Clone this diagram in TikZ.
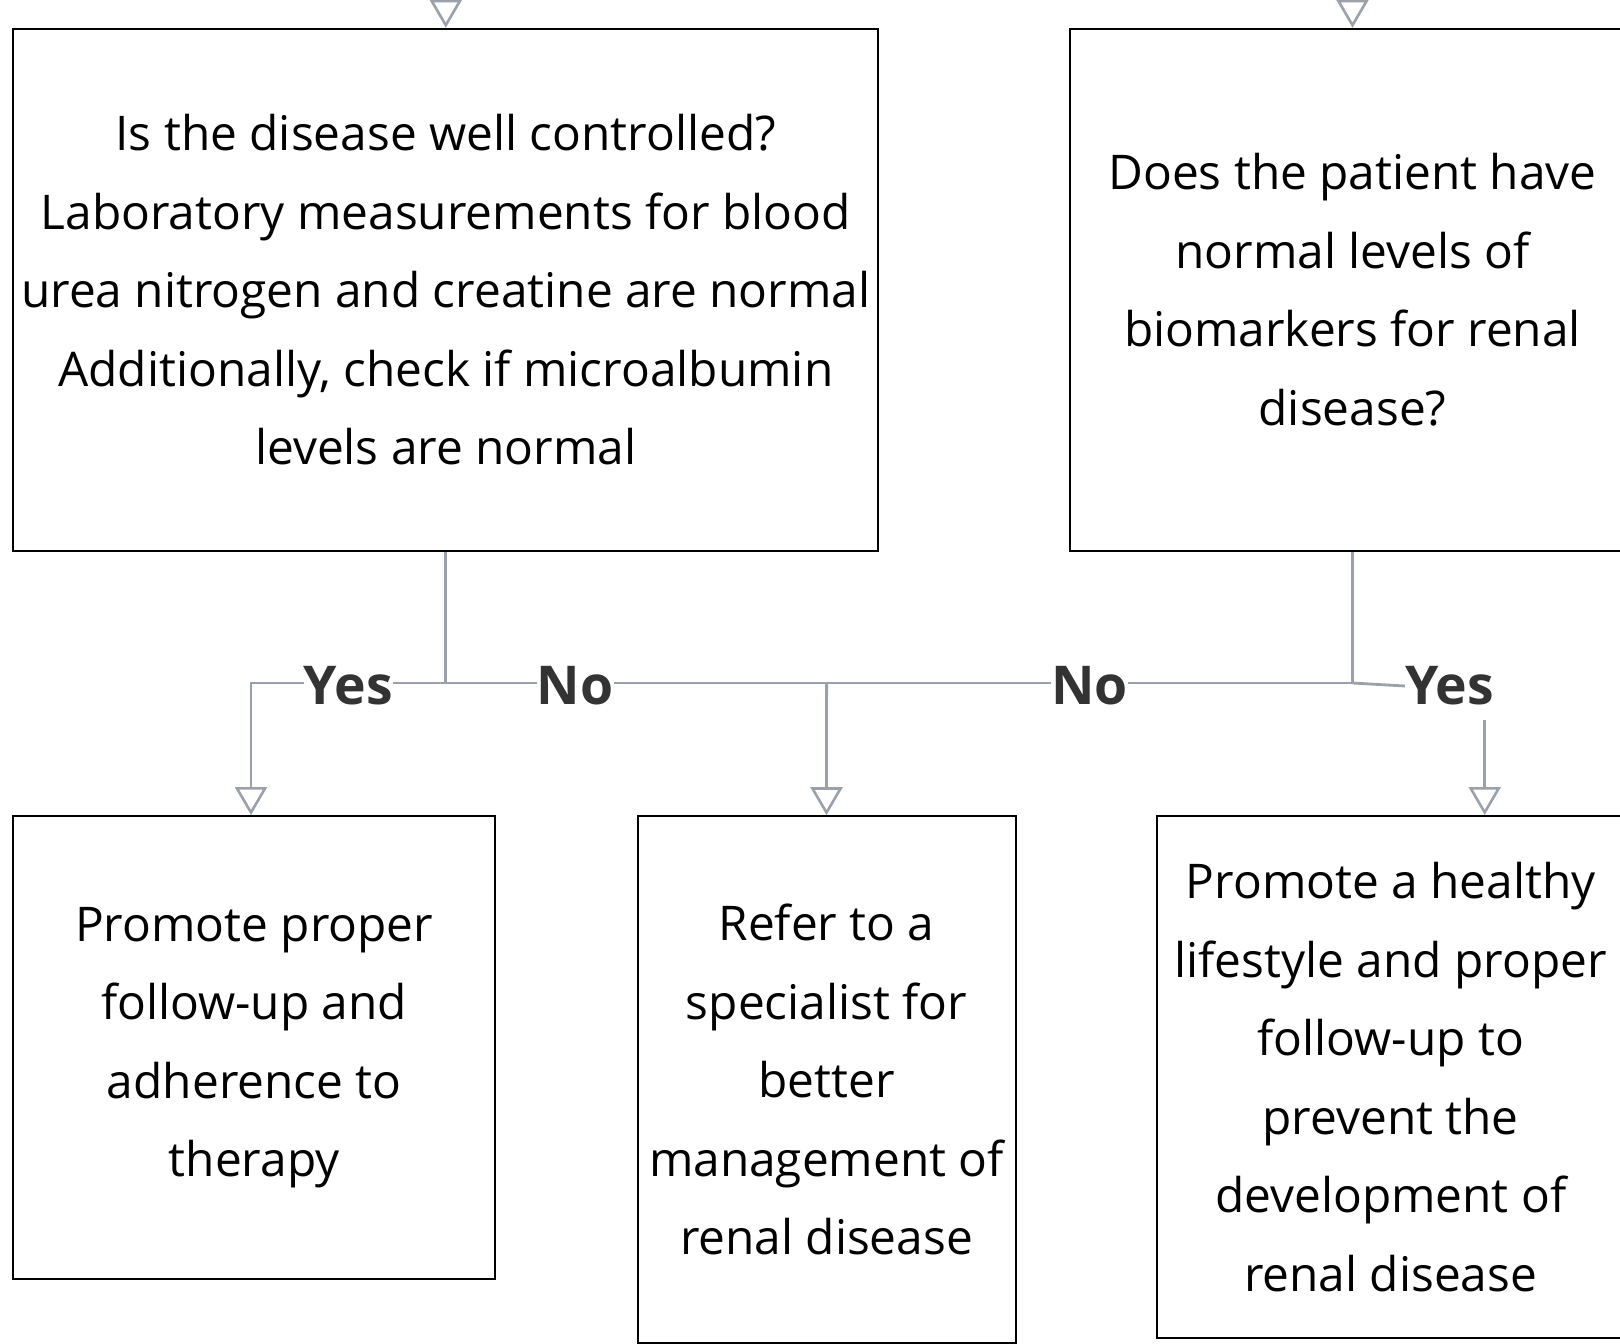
\documentclass[tikz,border=0pt]{standalone}
\usepackage{fontspec}
\setmainfont{Open Sans}
\usetikzlibrary{arrows.meta}
\usetikzlibrary{positioning}
\definecolor{linkgray}{HTML}{9AA1AB}
\definecolor{labdark}{HTML}{333333}

\begin{document}
\begin{tikzpicture}
  [x=1pt,y=-1pt,
  box/.style={draw=black,line width=2pt,fill=white,inner sep=0pt,align=center,
    font=\fontsize{47.8}{78.5}\selectfont},
  link/.style={draw=linkgray,line width=2.8pt},
  flow/.style={link,-{Triangle[open,length=28pt,width=32pt,line width=2.6pt]}},
  lab/.style={fill=white,inner sep=0pt,yshift=-3pt,text=labdark,font=\fontsize{53.5}{60}\bfseries}]
  \useasboundingbox (0,0) rectangle (1620,1344);

  % questions
  \node[box,minimum width=865pt,minimum height=522pt] (qA) at (445.8,289.8)
    {Is the disease well controlled?\\ Laboratory measurements for blood\\
     urea nitrogen and creatine are normal\\ Additionally, check if microalbumin\\
     levels are normal};
  \node[box,minimum width=566pt,minimum height=522pt] (qB) at (1352.5,289.8)
    {Does the patient have\\ normal levels of\\ biomarkers for renal\\ disease?};

  % actions
  \node[box,minimum width=481.5pt,minimum height=463pt] (actC) at (254.2,1047.6)
    {Promote proper\\ follow-up and\\ adherence to\\ therapy};
  \node[box,minimum width=378pt,minimum height=527pt] (actD) at (826.5,1079.7)
    {Refer to a\\ specialist for\\ better\\ management of\\ renal disease};
  \node[box,minimum width=467pt,minimum height=522pt] (actE) at (1390.7,1077)
    {Promote a healthy\\ lifestyle and proper\\ follow-up to\\ prevent the\\
     development of\\ renal disease};

  \coordinate (inA) at (445.8,-40);
  \coordinate (inB) at (1352.5,-40);
  \coordinate (jA) at (445.8,683);
  \coordinate (jB) at (1352.5,683);
  \coordinate (jD) at (826.6,683);
  \coordinate (cIn) at (251,683);
  \coordinate (eIn) at (1484.7,720);
  \node[lab] (yesB) at (1449.6,683) {Yes};

  \draw [flow] (inA) -- (qA.north);
  \draw [flow] (inB) -- (qB.north);

  \draw [link] (qA.south) -- (jA);
  \draw [flow] (jA) -- node [lab,midway] {Yes} (cIn) -- (cIn |- actC.north);
  \draw [link] (jA) -- node [lab,pos=0.34] {No} (jD);
  \draw [flow] (jD) -- (actD.north);

  \draw [link] (qB.south) -- (jB);
  \draw [link] (jB) -- node [lab,midway] {No} (jD);
  \draw [link] (jB) -- (yesB.west);
  \draw [flow] (eIn) -- (eIn |- actE.north);

\end{tikzpicture}
\end{document}
